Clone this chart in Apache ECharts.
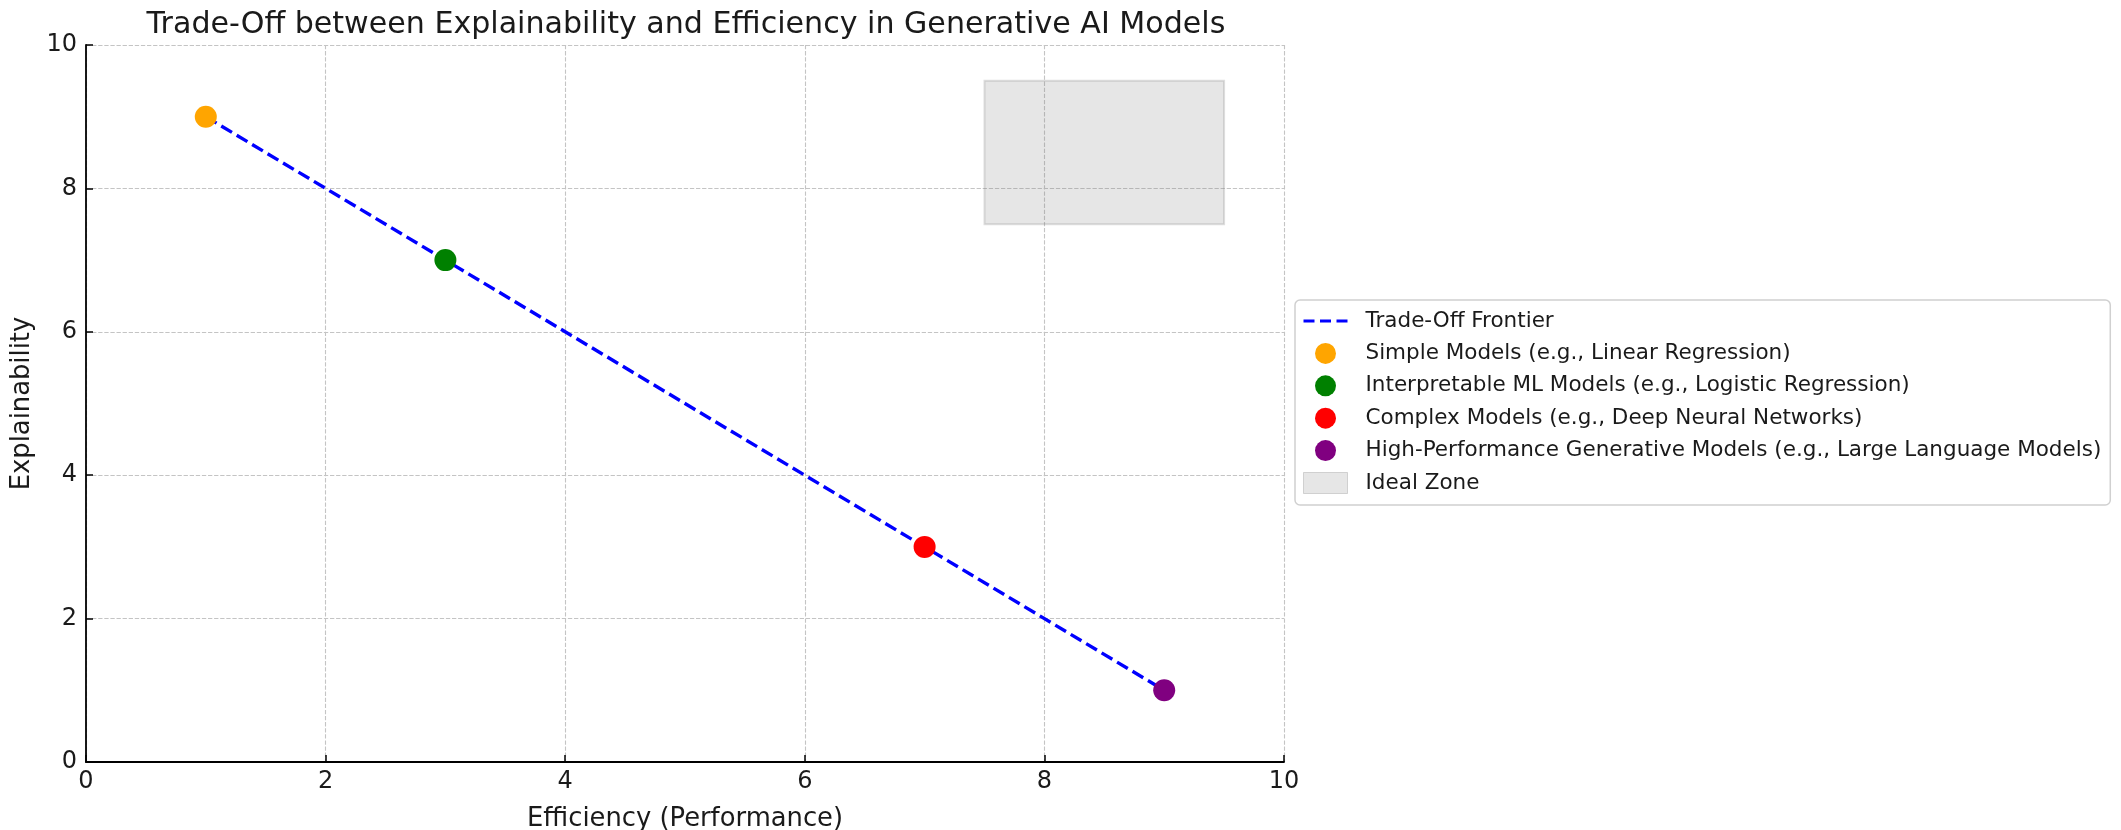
<!DOCTYPE html>
<html>
<head>
<meta charset="utf-8">
<script src="https://cdn.jsdelivr.net/npm/echarts@6/dist/echarts.min.js"></script>
<style>
html,body{margin:0;padding:0;background:#fff;}
#chart{width:2121px;height:830px;}
</style>
</head>
<body>
<div id="chart"></div>
<script>
// Data
const frontierX = [1, 3, 7, 9];
const frontierY = [9, 7, 3, 1];
const modelNames = [
  'Simple Models (e.g., Linear Regression)',
  'Interpretable ML Models (e.g., Logistic Regression)',
  'Complex Models (e.g., Deep Neural Networks)',
  'High-Performance Generative Models (e.g., Large Language Models)'
];
const modelX = [1, 3, 7, 9];
const modelY = [9, 7, 3, 1];
const modelColors = ['#FFA500', '#008000', '#FF0000', '#800080'];
const idealZone = [7.5, 7.5, 9.5, 9.5]; // x0, y0, x1, y1
const xTicks = [0, 2, 4, 6, 8, 10];
const yTicks = [0, 2, 4, 6, 8, 10];

const FONT = 'DejaVu Sans';
const TXT = '#1a1a1a';

const chart = echarts.init(document.getElementById('chart'), null, {renderer: 'canvas'});

const series = [];
series.push({
  name: 'Ideal Zone',
  type: 'custom',
  z: 1,
  silent: true,
  renderItem: function (params, api) {
    const p0 = api.coord([api.value(0), api.value(3)]);
    const p1 = api.coord([api.value(2), api.value(1)]);
    return {
      type: 'rect',
      shape: {x: p0[0], y: p0[1], width: p1[0] - p0[0], height: p1[1] - p0[1]},
      style: {fill: 'rgba(128,128,128,0.2)', stroke: 'rgba(128,128,128,0.25)', lineWidth: 2}
    };
  },
  itemStyle: {color: 'rgba(128,128,128,0.2)'},
  data: [idealZone]
});
series.push({
  name: 'Trade-Off Frontier',
  type: 'line',
  z: 3,
  showSymbol: false,
  symbol: 'none',
  silent: true,
  lineStyle: {color: '#0000FF', width: 3.4, type: [12.5, 5.5]},
  itemStyle: {color: '#0000FF'},
  data: frontierX.map((x, i) => [x, frontierY[i]])
});
modelNames.forEach((n, i) => {
  series.push({
    name: n,
    type: 'scatter',
    z: 5,
    symbol: 'circle',
    symbolSize: 22,
    itemStyle: {color: modelColors[i], opacity: 1},
    silent: true,
    data: [[modelX[i], modelY[i]]]
  });
});

const legendData = [
  {name: 'Trade-Off Frontier', icon: 'path://M0,0h11v3h-11z M16.5,0h11v3h-11z M33,0h11v3h-11z', itemStyle: {color: '#0000FF', borderWidth: 0}},
  ...modelNames.map(n => ({name: n, icon: 'circle'})),
  {name: 'Ideal Zone', icon: 'rect', itemStyle: {color: 'rgba(128,128,128,0.2)', borderColor: 'rgba(128,128,128,0.3)', borderWidth: 1}}
];

const axisCommon = {
  type: 'value',
  min: 0, max: 10, interval: 2,
  axisLine: {show: true, onZero: false, lineStyle: {color: '#000', width: 1.8}},
  axisTick: {show: true, inside: true, length: 7, lineStyle: {color: '#000', width: 1.5}},
  splitLine: {show: true, lineStyle: {color: '#c4c4c4', width: 1.1, type: [4.3, 1.8]}},
  axisLabel: {color: TXT, fontFamily: FONT, fontSize: 24,
    formatter: v => String(v)},
  nameTextStyle: {color: TXT, fontFamily: FONT, fontSize: 25.8}
};

chart.setOption({
  animation: false,
  backgroundColor: '#fff',
  title: {
    text: 'Trade-Off between Explainability and Efficiency in Generative AI Models',
    left: 681, top: 5, textAlign: 'center',
    textStyle: {color: TXT, fontFamily: FONT, fontSize: 30.1, fontWeight: 'normal'}
  },
  grid: {left: 86, right: 837, top: 45, bottom: 68, containLabel: false, outerBoundsMode: 'none'},
  xAxis: Object.assign({}, axisCommon, {
    name: 'Efficiency (Performance)', nameLocation: 'middle', nameGap: 44,
    axisLabel: Object.assign({}, axisCommon.axisLabel, {margin: 8})
  }),
  yAxis: Object.assign({}, axisCommon, {
    name: 'Explainability', nameLocation: 'middle', nameGap: 42, nameRotate: 90,
    axisLabel: Object.assign({}, axisCommon.axisLabel, {margin: 9})
  }),
  legend: {
    orient: 'vertical',
    left: 1295, top: 300,
    padding: [10, 9, 11, 8],
    itemWidth: 44, itemHeight: 21, itemGap: 10.4,
    backgroundColor: 'rgba(255,255,255,0.8)',
    borderColor: '#d0d0d0', borderWidth: 1.5, borderRadius: 5,
    textStyle: {color: TXT, fontFamily: FONT, fontSize: 21.5, lineHeight: 21, padding: [0, 0, 0, 13]},
    data: legendData,
    selectedMode: false
  },
  series: series
});
</script>
</body>
</html>
